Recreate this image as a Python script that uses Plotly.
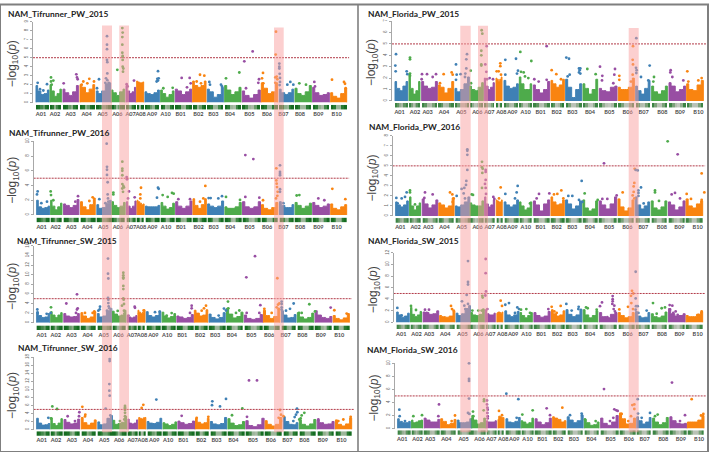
import plotly.graph_objects as go

W, H = 709, 453
chroms = ["A01","A02","A03","A04","A05","A06","A07","A08","A09","A10",
          "B01","B02","B03","B04","B05","B06","B07","B08","B09","B10"]
chrom_colors = ["#3f80b5","#4eab4b","#984ea3","#f98410"]

# chromosome spans, genome position units, left / right column
start_L = [108,150,189,240,289,334,378,410,435,482,526,578,622,674,727,784,838,885,938,992]
end_L   = [147,184,235,284,332,374,407,431,478,522,575,618,670,723,781,833,881,934,988,1040]
label_L = [123,165,212,260,308,352,392,422,456,497,542,595,640,690,748,801,850,900,955,1010]
start_R = [120,162,200,250,300,344,388,423,447,493,535,588,632,684,733,790,842,890,942,995]
end_R   = [158,195,247,296,343,385,418,441,490,530,584,628,680,728,786,838,885,937,992,1045]
label_R = [134,180,218,267,319,367,403,439,472,512,557,605,652,705,763,818,866,922,975,1030]

# gene density along each chromosome, 0..1
density = [
 [.9,.8,.6,.5,.8,.9],[.9,.7,.4,.6,.8,.9],[.9,.8,.5,.4,.7,.9],[.9,.8,.4,.5,.8,.9],[.9,.7,.5,.5,.6,.9],
 [.9,.6,.3,.5,.8,.9],[.9,.7,.4,.5,.7,.9],[.95,.9,.2,.3,.9,.95],[.9,.7,.5,.4,.8,.9],[.9,.7,.3,.4,.7,.9],
 [.9,.8,.4,.3,.7,.9],[.9,.8,.3,.5,.8,.95],[.9,.7,.3,.3,.6,.9],[.9,.7,.3,.2,.6,.9],[.9,.6,.3,.2,.5,.9],
 [.9,.7,.3,.3,.7,.9],[.9,.7,.4,.3,.7,.9],[.9,.7,.3,.3,.7,.9],[.9,.7,.4,.2,.6,.9],[.9,.7,.3,.3,.7,.9]]

# upper envelope of the dense mass of markers, per chromosome
tp15_env = [[1.9,1.3,.9,1.0,1.4],[2.0,1.3,.7,1.0,1.5],[1.5,1.1,.8,1.2,1.9],[2.0,1.7,1.1,1.5,2.0],[1.3,1.0,1.3,2.1,2.2],
 [1.4,1.1,.8,1.2,1.5],[1.9,1.3,1.0,1.2,1.7],[2.4,2.3,2.2,2.2,2.3],[1.2,1.0,.9,1.1,1.4],[1.4,1.0,.6,.9,1.3],
 [1.5,1.3,.9,1.2,1.5],[2.4,1.9,1.7,1.9,2.4],[1.5,1.2,.6,.9,1.7],[1.9,1.4,.9,1.2,1.7],[1.3,.8,.5,.9,1.4],
 [2.2,1.6,1.0,1.2,2.2],[1.5,1.1,.9,1.1,1.5],[1.6,1.0,.8,1.2,1.9],[1.7,1.1,.8,.9,1.1],[1.1,.7,.5,1.0,1.6]]
tp16_env = [[2.0,1.1,.9,1.0,1.2],[2.0,1.2,.7,1.1,1.6],[1.5,1.3,1.0,1.3,2.1],[1.8,1.1,.7,1.4,2.3],[1.4,.9,1.0,1.6,2.0],
 [1.8,1.3,1.0,1.2,1.7],[1.8,1.2,.9,1.2,1.9],[2.0,1.8,1.6,1.4,1.5],[1.2,1.1,1.1,1.1,1.3],[1.7,1.2,.8,1.0,1.6],
 [1.8,1.2,.9,1.2,1.9],[2.2,1.3,.9,1.4,2.2],[1.5,1.2,1.0,1.2,1.9],[1.1,.9,.9,1.1,1.7],[1.8,1.1,.9,1.1,1.8],
 [1.4,.9,.7,1.0,1.7],[1.8,1.3,1.0,1.0,1.4],[1.7,1.3,.9,1.2,1.6],[1.7,1.3,1.0,1.2,1.5],[1.5,.9,.7,1.1,1.4]]
ts15_env = [[2.3,1.5,1.1,1.2,1.9],[2.3,1.6,1.1,1.6,2.1],[1.9,1.4,1.2,1.3,1.9],[2.1,1.4,.9,1.2,2.3],[1.9,1.2,1.4,2.5,3.0],
 [2.4,1.8,1.4,1.6,2.6],[1.5,1.2,1.0,1.2,1.5],[2.6,2.2,1.9,2.2,2.7],[2.3,1.5,1.2,1.5,2.4],[2.2,1.4,1.0,1.3,1.9],
 [1.4,1.2,.9,1.1,1.7],[2.6,2.0,1.4,1.6,2.7],[1.8,1.1,.8,1.1,2.1],[3.0,1.8,1.0,1.3,2.2],[1.6,.9,.7,.9,1.7],
 [2.6,1.5,.9,1.3,2.9],[2.5,1.6,1.0,1.1,1.7],[2.1,1.2,.8,1.1,2.0],[2.5,1.6,1.1,.9,1.3],[1.5,.9,.6,1.0,1.9]]
ts16_env = [[2.8,1.6,1.1,1.2,1.5],[2.9,1.5,1.0,1.6,2.7],[2.5,1.8,1.4,1.6,2.6],[3.0,1.7,1.1,1.6,2.4],[1.9,1.2,1.4,2.8,3.5],
 [2.3,1.3,1.5,1.8,3.3],[2.6,1.6,1.4,1.6,2.4],[3.0,2.8,2.6,2.9,3.0],[2.0,1.6,1.5,1.8,2.8],[1.7,1.4,1.0,1.3,1.9],
 [2.1,1.7,1.3,1.5,2.1],[2.8,1.8,1.4,1.7,2.8],[2.0,1.4,1.2,1.5,3.0],[2.7,1.6,1.0,1.2,2.0],[2.2,1.0,.7,1.2,2.8],
 [2.2,1.3,.9,1.3,3.0],[3.2,2.0,1.3,1.2,1.7],[2.4,1.3,.9,1.4,2.5],[2.4,1.7,1.3,1.4,2.0],[2.4,1.3,.9,1.4,2.9]]
fp15_env = [[1.7,1.1,.9,1.3,1.7],[2.4,1.1,.6,.9,1.7],[1.7,1.3,1.1,1.2,1.7],[1.4,1.2,.7,1.1,1.7],[1.1,.8,1.0,1.5,2.1],
 [1.3,1.0,.9,1.2,1.6],[2.0,1.3,1.0,1.2,1.6],[2.0,1.9,1.7,1.9,2.1],[1.8,1.3,1.1,1.2,1.5],[2.1,1.5,1.0,1.0,1.5],
 [1.4,1.0,.7,1.0,1.7],[1.8,1.5,1.2,1.4,1.9],[1.9,1.2,.3,1.0,1.5],[1.5,1.1,.6,1.0,1.9],[1.1,.9,.8,1.2,1.3],
 [1.2,1.0,1.0,1.2,2.0],[1.3,.9,.6,1.1,1.8],[1.3,.8,.6,.9,1.3],[1.6,1.3,.8,1.0,1.3],[1.5,1.0,.9,1.4,1.8]]
fp16_env = [[1.4,1.1,.9,1.1,1.5],[1.9,1.0,.6,1.0,1.3],[1.7,1.2,.8,1.1,1.6],[1.3,1.1,.8,1.0,1.8],[1.0,.9,1.1,1.4,1.9],
 [1.3,1.1,1.0,1.0,1.5],[1.9,1.2,.9,1.1,1.6],[1.6,1.5,1.4,1.4,1.6],[1.4,1.1,.9,1.1,1.6],[1.4,1.0,.6,.8,1.4],
 [1.5,1.1,.5,1.2,1.6],[1.9,1.4,1.1,1.2,1.6],[1.6,1.2,.7,1.0,1.5],[1.6,.8,.5,.7,1.5],[1.5,1.1,.7,1.2,1.9],
 [1.7,.9,.5,.8,1.6],[1.9,1.1,.7,1.0,1.4],[1.5,.8,.6,.9,1.5],[1.4,1.1,.6,.9,1.5],[1.7,1.0,.8,1.2,1.5]]
fs15_env = [[1.8,1.3,.9,1.1,1.6],[2.6,1.4,1.0,1.3,1.9],[1.8,1.7,1.4,1.5,2.0],[1.2,1.0,.9,1.1,2.0],[1.6,1.2,1.5,2.4,2.9],
 [1.7,1.3,1.2,1.4,2.2],[2.2,1.5,1.3,1.3,1.6],[1.6,1.7,1.7,1.6,1.8],[2.0,1.3,1.0,1.3,1.9],[1.7,1.2,.8,1.2,1.7],
 [1.7,1.2,.9,1.1,1.9],[2.2,1.5,1.1,1.3,2.0],[2.2,1.4,1.0,1.3,2.3],[2.2,1.3,.8,1.2,2.0],[1.7,1.0,.8,1.4,1.7],
 [1.7,1.2,.8,1.0,1.7],[1.9,1.1,.8,.9,1.7],[1.5,1.0,.8,1.1,1.8],[2.4,1.5,1.1,1.2,1.5],[1.2,1.0,1.0,1.4,1.8]]
fs16_env = [[1.5,1.1,.9,.9,1.1],[1.3,.9,1.0,1.2,1.3],[1.6,1.3,1.0,1.0,1.4],[1.5,1.1,.6,.8,1.4],[1.3,.9,.9,1.0,1.5],
 [2.0,1.3,.7,.9,1.6],[1.2,1.0,1.0,1.0,1.2],[1.4,1.9,1.8,1.7,1.7],[1.5,1.0,.9,1.1,1.7],[1.2,1.0,.7,.9,1.6],
 [1.5,1.0,.6,.9,1.6],[1.8,1.6,1.4,1.0,1.2],[1.8,1.3,.9,1.2,2.0],[1.4,.9,.5,.6,1.0],[1.6,.8,.5,1.0,2.0],
 [2.4,1.5,.7,.8,1.6],[1.8,1.2,.7,1.0,1.7],[1.6,1.0,.6,.9,1.7],[1.8,1.2,.8,.7,.8],[1.0,1.0,1.0,1.3,2.0]]

# individual SNPs standing out of the mass: (position, -log10 p)
tp15_pts = [(321,7.4),(321,6.45),(321,5.95),(321,4.75),(322,4.5),(322,3.25),(318,2.7),(322,2.5),(326,2.2),(316,2.2),
 (352,3.65),(367,8.3),(368,7.8),(367,7.3),(367,6.45),(367,5.55),(368,5.2),(368,5.1),(368,4.75),(368,4.0),(370,3.8),(369,3.45),
 (380,2.05),(383,1.8),(402,2.45),(113,2.2),(141,2.05),(120,1.5),(130,1.35),(153,2.8),(153,2.35),(160,2.45),(155,2.0),
 (191,2.15),(229,3.15),(231,2.8),(233,2.6),(250,2.35),(268,2.65),(282,2.35),(245,2.0),(262,2.15),(297,2.6),(291,1.6),
 (474,3.5),(472,2.65),(474,2.45),(470,2.35),(476,2.7),(490,1.6),(518,1.65),(545,2.75),(569,2.75),(561,1.7),(572,2.15),
 (600,3.1),(613,3.0),(603,2.15),(590,2.35),(628,2.3),(630,2.0),(663,2.0),(666,1.8),(678,2.7),(718,3.35),(733,4.6),(758,5.7),
 (738,1.6),(777,2.6),(775,2.2),(789,3.3),(786,2.7),(790,2.15),(828,7.9),(827,5.35),(826,2.8),(830,2.9),(832,2.6),(826,2.2),
 (838,4.35),(838,4.0),(839,3.2),(840,2.75),(840,2.3),(839,1.95),(838,3.8),(871,2.3),(862,2.0),(880,2.0),(898,2.15),(918,2.0),
 (943,2.3),(945,1.8),(996,2.55),(1032,2.3),(1035,2.1),(1037,1.6)]
tp16_pts = [(321,10.1),(320,9.7),(321,6.55),(321,6.15),(321,5.45),(323,4.45),(323,2.8),(324,2.25),(325,1.8),(316,1.6),
 (367,7.25),(367,6.3),(367,6.0),(367,5.4),(367,4.2),(370,3.95),(367,3.6),(369,3.15),(372,3.75),(340,3.05),(340,2.8),
 (380,5.15),(381,4.85),(387,3.2),(404,2.4),(384,2.25),(113,3.2),(111,2.8),(124,1.6),(141,1.8),(152,3.2),(153,2.7),(160,2.0),
 (234,2.55),(226,1.8),(278,2.4),(268,1.9),(298,2.15),(423,3.7),(421,2.8),(421,2.25),(474,3.7),(476,3.55),(471,2.35),
 (488,2.7),(503,2.45),(516,3.0),(521,2.9),(535,2.15),(570,2.15),(616,3.95),(610,2.25),(600,1.8),(626,2.3),(632,2.3),(655,2.25),(666,2.55),
 (678,2.45),(720,2.05),(736,8.15),(760,7.6),(736,2.45),(778,2.35),(789,2.0),(829,6.35),(829,4.7),(830,4.25),(831,3.8),(833,3.15),(828,2.25),(832,2.6),
 (840,6.75),(840,5.85),(840,5.6),(840,5.4),(840,3.5),(840,3.15),(850,1.6),(890,2.65),(898,2.7),(955,2.25),(973,2.0),(997,3.55),(1036,2.15)]
ts15_pts = [(324,16.2),(324,13.35),(324,10.2),(325,9.2),(324,5.15),(325,4.8),(325,4.1),(321,2.5),(328,3.0),(326,3.4),
 (295,2.5),(300,3.35),(299,2.8),(370,10.4),(370,9.85),(370,9.45),(370,9.2),(370,7.65),(370,7.0),(370,5.05),(371,4.8),(372,3.9),(366,3.55),(372,2.5),(373,1.85),
 (353,2.45),(404,3.35),(405,3.1),(385,1.5),(112,2.75),(113,2.05),(140,1.85),(153,3.2),(152,2.05),(199,4.0),(231,5.9),(233,3.0),(231,2.75),(228,2.05),
 (255,2.05),(278,2.05),(283,2.35),(431,2.55),(417,1.85),(465,2.2),(479,2.3),(515,2.0),(500,1.5),(575,3.55),(575,3.0),(570,2.05),
 (618,3.55),(612,3.0),(605,2.5),(656,1.5),(672,2.95),(678,2.55),(684,4.4),(685,3.0),(718,2.55),(708,2.05),(739,9.45),(765,13.85),(781,3.65),(740,2.05),(778,2.05),
 (793,2.9),(832,9.25),(815,2.05),(838,4.0),(834,3.75),(830,3.2),(836,2.9),(845,4.4),(845,3.9),(845,3.2),(845,2.75),(881,4.0),(870,2.9),(858,2.5),
 (928,3.85),(897,2.05),(905,2.05),(992,3.15),(945,2.35),(1003,2.6),(1040,1.9)]
ts16_pts = [(329,17.5),(329,17.0),(328,11.3),(328,9.65),(329,8.4),(317,5.2),(331,3.5),(326,2.5),(322,1.3),
 (375,5.85),(375,5.5),(375,5.2),(375,4.85),(375,4.15),(375,3.3),(360,2.1),(373,2.5),(157,5.75),(171,5.1),(153,2.75),(145,2.9),
 (203,3.3),(238,4.3),(237,3.3),(225,2.1),(247,5.65),(256,3.7),(255,3.25),(425,5.35),(430,6.15),(469,7.45),(545,3.4),
 (637,7.0),(636,6.05),(660,5.75),(678,7.6),(696,3.55),(727,5.25),(747,12.2),(771,12.2),(741,3.15),(840,4.85),(843,3.7),(836,2.9),(843,2.1),
 (850,3.3),(891,5.2),(892,4.3),(888,3.7),(884,3.1),(880,2.1),(913,4.15),(905,3.5),(902,2.75),(898,2.5),(955,2.5),(1052,3.15),(1030,2.5),(1015,2.1),(625,3.15),(590,2.9)]
fp15_pts = [(123,4.1),(121,3.1),(122,2.6),(155,2.6),(157,2.35),(165,3.8),(165,3.65),(165,2.4),(165,2.2),(201,2.35),(216,2.35),(243,2.35),(200,1.9),(233,2.1),
 (266,2.35),(290,2.5),(293,2.3),(255,1.55),(303,3.2),(305,2.3),(317,2.35),(336,4.1),(334,3.65),(334,2.85),(331,2.4),(330,2.1),(303,1.85),
 (347,2.65),(380,6.2),(382,5.9),(379,4.4),(379,4.0),(379,3.2),(379,3.1),(348,1.55),(395,4.8),(391,3.2),(394,2.55),(396,1.9),(404,2.0),(414,1.9),
 (436,3.3),(436,3.05),(431,2.6),(425,2.6),(438,2.3),(451,3.6),(451,2.3),(483,3.7),(486,2.4),(489,2.65),(496,4.3),(529,3.5),(498,2.55),(506,2.5),(510,2.15),(520,2.0),
 (575,4.8),(538,1.9),(551,1.7),(575,1.85),(590,2.7),(604,2.35),(618,1.9),(634,3.8),(642,3.7),(644,2.3),(638,2.15),(672,2.85),(674,2.7),(676,2.85),(672,2.5),(676,2.4),
 (697,2.8),(722,2.35),(735,3.0),(742,2.2),(741,1.8),(780,2.8),(778,2.3),(775,1.55),(793,2.2),(793,1.85),(834,4.8),(833,3.6),(834,3.2),(833,2.3),(828,1.7),
 (844,5.5),(843,2.9),(845,2.7),(844,2.45),(858,2.1),(884,3.1),(880,1.8),(897,2.1),(895,1.7),(947,2.7),(946,2.5),(952,2.1),(985,1.8),(997,2.6),(1000,1.7),(1040,2.0),(1030,1.8)]
fp16_pts = [(336,8.05),(337,6.65),(337,6.5),(337,6.1),(337,4.6),(334,3.5),(333,3.1),(328,2.8),(320,2.7),(326,2.25),(330,1.75),(305,2.0),
 (381,5.4),(381,4.85),(383,4.7),(382,4.3),(381,2.8),(350,2.15),(354,2.1),(392,4.6),(392,4.4),(392,3.6),(392,2.8),(390,3.2),(393,2.2),(415,1.9),(418,1.7),
 (124,1.8),(155,2.35),(150,1.9),(140,1.75),(128,1.25),(165,2.55),(165,2.35),(180,1.15),(210,2.35),(233,2.15),(208,1.8),(285,2.35),(292,2.15),(296,1.75),(293,1.4),
 (437,2.85),(432,1.75),(451,2.2),(488,3.0),(485,2.35),(480,1.75),(525,1.25),(552,2.2),(583,2.25),(545,1.75),(597,2.15),(607,2.2),(619,2.55),(625,1.75),
 (640,2.0),(652,2.0),(680,3.5),(672,1.6),(682,1.4),(689,2.25),(728,1.6),(747,5.25),(742,1.7),(757,1.7),(785,2.05),(803,2.35),(839,4.7),(842,4.6),(838,3.3),(836,2.95),(836,2.4),(833,2.05),(838,1.75),
 (848,4.55),(858,2.85),(850,2.55),(850,2.3),(850,2.0),(866,1.25),(900,2.55),(900,2.35),(912,1.5),(938,7.45),(968,6.15),(960,2.3),(950,2.15),(995,2.2),(975,1.75),
 (1040,4.25),(1048,2.35),(1008,1.7),(1040,1.6)]
fs15_pts = [(338,12.55),(339,10.6),(339,7.0),(339,6.55),(335,4.75),(321,3.65),(339,3.2),(331,2.3),(328,2.9),(382,4.6),(383,4.3),(392,10.95),(392,8.5),(393,5.35),(391,4.65),
 (380,2.05),(370,2.05),(352,2.05),(385,2.2),(397,2.3),(127,2.5),(140,1.2),(168,2.85),(183,2.15),(210,2.2),(222,2.2),(215,1.65),(288,2.85),(291,2.3),(296,2.05),
 (437,3.75),(441,2.85),(432,1.65),(451,3.05),(462,3.35),(487,2.6),(480,1.65),(492,2.3),(498,2.2),(514,2.3),(525,1.65),(580,2.3),(590,2.7),(617,2.85),(605,1.65),(598,1.9),
 (634,3.2),(671,2.7),(670,2.3),(650,2.05),(693,2.6),(698,2.45),(725,2.2),(741,3.45),(735,2.8),(773,4.55),(773,4.0),(773,3.65),(772,3.2),(778,2.9),(776,2.3),(780,1.9),(757,.9),
 (793,2.25),(831,5.45),(835,5.0),(828,4.6),(829,3.35),(819,2.7),(834,2.3),(842,8.75),(842,4.15),(843,2.8),(848,2.8),(842,2.2),(850,1.65),(875,2.05),
 (894,3.35),(920,2.45),(930,2.6),(905,1.5),(944,3.0),(952,2.9),(945,2.2),(962,1.9),(968,1.3),(955,1.65),(1030,1.3),(1040,1.9)]
fs16_pts = [(342,10.0),(342,7.6),(342,7.3),(342,4.6),(339,2.4),(343,2.25),(354,2.6),(387,4.45),(387,4.2),(386,2.8),(355,1.9),(352,1.4),(396,4.3),(396,3.7),(397,3.2),(398,2.9),(397,2.4),(398,1.9),(398,1.55),
 (133,2.9),(134,1.9),(150,1.15),(175,1.9),(201,2.05),(252,3.7),(250,1.9),(213,1.15),(300,2.0),(290,1.15),(432,2.7),(441,2.05),(458,10.35),(454,5.35),(490,4.5),(485,1.65),
 (502,2.15),(533,2.8),(575,3.1),(585,2.05),(622,3.2),(645,2.05),(680,2.3),(681,2.0),(690,1.4),(722,1.15),(747,6.05),(778,2.95),(784,2.8),(788,2.7),(775,1.65),(765,1.15),
 (800,2.25),(838,3.7),(838,3.0),(832,3.6),(828,1.9),(820,1.15),(810,.65),(848,4.5),(849,2.3),(885,2.4),(860,1.65),(908,2.15),(900,1.9),(896,1.15),(951,7.05),(990,2.05),(975,1.15),
 (1010,4.5),(1045,2.25),(1038,2.0)]

panels = [
 dict(t="NAM_Tifrunner_PW_2015",col="L",a=108,b=1040,y0=99.7,top=18,vtop=9,ticks=list(range(0,10)),env=tp15_env,pts=tp15_pts,tx=6,ty=10,sy=102),
 dict(t="NAM_Tifrunner_PW_2016",col="L",a=110,b=1040,y0=213.3,top=139,vtop=10,ticks=list(range(0,11,2)),env=tp16_env,pts=tp16_pts,tx=6.5,ty=130,sy=216),
 dict(t="NAM_Tifrunner_SW_2015",col="L",a=110,b=1048,y0=322.3,top=244.5,vtop=16,ticks=list(range(0,17,2)),env=ts15_env,pts=ts15_pts,tx=14.5,ty=240,sy=325),
 dict(t="NAM_Tifrunner_SW_2016",col="L",a=110,b=1055,y0=430.3,top=357,vtop=18,ticks=list(range(0,19,2)),env=ts16_env,pts=ts16_pts,tx=15.5,ty=348,sy=432),
 dict(t="NAM_Florida_PW_2015",col="R",a=120,b=1045,y0=98,top=17.3,vtop=7,ticks=list(range(0,8)),env=fp15_env,pts=fp15_pts,tx=365.5,ty=10,sy=100),
 dict(t="NAM_Florida_PW_2016",col="R",a=122,b=1043,y0=214.3,top=133.3,vtop=8,ticks=list(range(0,9)),env=fp16_env,pts=fp16_pts,tx=366.5,ty=124,sy=216.5),
 dict(t="NAM_Florida_SW_2015",col="R",a=125,b=1043,y0=322,top=251.7,vtop=12,ticks=list(range(0,13,2)),env=fs15_env,pts=fs15_pts,tx=365.5,ty=240,sy=324),
 dict(t="NAM_Florida_SW_2016",col="R",a=128,b=1047,y0=429.3,top=363.3,vtop=10,ticks=list(range(0,11,2)),env=fs16_env,pts=fs16_pts,tx=364.5,ty=350,sy=431),
]
threshold = 5

def fx(p): return p / W
def fy(p): return 1 - p / H

fig = go.Figure()
layout = {}
ann = []
shapes = []
scale_L = [[0,"#c4c8c2"],[.4,"#8fb08c"],[.65,"#2f7f38"],[1,"#0a6418"]]
scale_R = [[0,"#d0d2cf"],[.5,"#aab8a5"],[.75,"#6f9c6e"],[1,"#1a7428"]]

for i, p in enumerate(panels):
    m = 2*i + 1; s = 2*i + 2
    xoff = 0 if p["col"] == "L" else 355
    st0, en0 = (start_L, end_L) if p["col"] == "L" else (start_R, end_R)
    lab0 = label_L if p["col"] == "L" else label_R
    base_a, base_b = st0[0], en0[-1]
    k = (p["b"] - p["a"]) / (base_b - base_a)
    conv = lambda u: p["a"] + (u - base_a) * k
    st = [conv(u) for u in st0]; en = [conv(u) for u in en0]; lab = [conv(u) for u in lab0]
    u0 = p["a"] - 9; u1 = p["b"] + 8
    dom = [fx(u0/3 + xoff), fx(u1/3 + xoff)]
    # dense mass
    for c in range(20):
        e = p["env"][c]
        xs = [st[c] + (en[c]-st[c]) * f for f in (0,.25,.5,.75,1)]
        fig.add_trace(go.Scatter(x=[st[c]] + xs + [en[c]], y=[0] + e + [0], mode="lines", fill="toself",
            fillcolor=chrom_colors[c % 4], line=dict(width=1, color=chrom_colors[c % 4], shape="hvh"),
            hoverinfo="skip", showlegend=False, xaxis=f"x{m}", yaxis=f"y{m}"))
    # individual SNPs
    px = [q[0] for q in p["pts"]]; py = [q[1] for q in p["pts"]]
    cols = []
    for u in px:
        c = max(0, sum(1 for v in st if v <= u) - 1)
        cols.append(chrom_colors[c % 4])
    fig.add_trace(go.Scatter(x=px, y=py, mode="markers", marker=dict(size=2.8, color=cols, line=dict(width=0)),
        hoverinfo="skip", showlegend=False, xaxis=f"x{m}", yaxis=f"y{m}", cliponaxis=False))
    # threshold
    fig.add_trace(go.Scatter(x=[u0, u1], y=[threshold, threshold], mode="lines",
        line=dict(color="#b23a48", width=1, dash="2px,1px"), hoverinfo="skip", showlegend=False,
        xaxis=f"x{m}", yaxis=f"y{m}"))
    # density strip
    edges = []; zz = []
    for c in range(20):
        n = len(density[c])
        for j in range(n):
            edges.append(st[c] + (en[c]-st[c]) * j / n)
            zz.append(density[c][j])
        edges.append(en[c])
        if c < 19:
            zz.append(None)
    fig.add_trace(go.Heatmap(x=edges, y=[0,1], z=[zz], zmin=0, zmax=1, showscale=False, hoverinfo="skip",
        colorscale=scale_L if p["col"]=="L" else scale_R, xaxis=f"x{s}", yaxis=f"y{s}"))
    axn = lambda n: "" if n == 1 else str(n)
    layout[f"xaxis{axn(m)}"] = dict(domain=dom, range=[u0,u1], anchor=f"y{m}", visible=False, fixedrange=True)
    layout[f"yaxis{axn(m)}"] = dict(domain=[fy(p["y0"]), fy(p["top"])], range=[0,p["vtop"]], anchor=f"x{m}",
        tickvals=p["ticks"], showgrid=False, zeroline=False, showline=True, linecolor="#a8a8a8", linewidth=1,
        ticks="outside", ticklen=2, tickcolor="#a8a8a8", tickfont=dict(size=4.5, color="#666", family="Liberation Sans"), tickangle=-90)
    strip_h = 4.6
    layout[f"xaxis{axn(s)}"] = dict(domain=dom, range=[u0,u1], anchor=f"y{s}", tickvals=lab, ticktext=chroms,
        showgrid=False, zeroline=False, showline=False, ticks="", ticklen=0,
        tickangle=0, tickfont=dict(size=5.6, color="#4a4a4a", family="Lato", weight=700))
    layout[f"yaxis{axn(s)}"] = dict(domain=[fy(p["sy"]+strip_h), fy(p["sy"])], range=[0,1], anchor=f"x{s}", visible=False, fixedrange=True)
    ann.append(dict(text=p["t"], x=fx(p["tx"]), y=fy(p["ty"]), xref="paper", yref="paper", xanchor="left", yanchor="middle",
        showarrow=False, font=dict(size=8.4, color="#222", family="Lato", weight=700)))
    ann.append(dict(text="−log<sub>10</sub>(<i>p</i>)", x=fx(u0/3 + xoff - 20), y=fy((p["y0"]+p["top"])/2 + 2), xref="paper", yref="paper",
        textangle=-90, showarrow=False, xanchor="center", yanchor="middle", font=dict(size=12, color="#444", family="Liberation Sans")))

band_x = [(102,112,21.7),(119.3,129,21.7),(274,283.7,23.7),(460.3,470.7,22),(478,488,22),(628.7,638.7,24.3)]
for a, b, t in band_x:
    shapes.append(dict(type="rect", xref="paper", yref="paper", x0=fx(a), x1=fx(b), y0=fy(433), y1=fy(t),
        fillcolor="rgba(250,160,160,0.5)", line=dict(width=0), layer="above"))
for x0,y0,x1,y1,w in [(0,.5,709,.5,2),(.5,0,.5,453,1),(358,0,358,453,1.6),(0,452.5,709,452.5,1),(708,0,708,453,2)]:
    shapes.append(dict(type="line", xref="paper", yref="paper", x0=fx(x0), x1=fx(x1), y0=fy(y0), y1=fy(y1),
        line=dict(color="#7f7f7f", width=w)))

fig.update_layout(width=W, height=H, margin=dict(l=0,r=0,t=0,b=0), paper_bgcolor="white", plot_bgcolor="rgba(0,0,0,0)",
    showlegend=False, annotations=ann, shapes=shapes, **layout)
fig.write_html("out.html", config={"displayModeBar": False},
    post_script="document.body.style.margin='0';document.body.style.overflow='hidden';")
